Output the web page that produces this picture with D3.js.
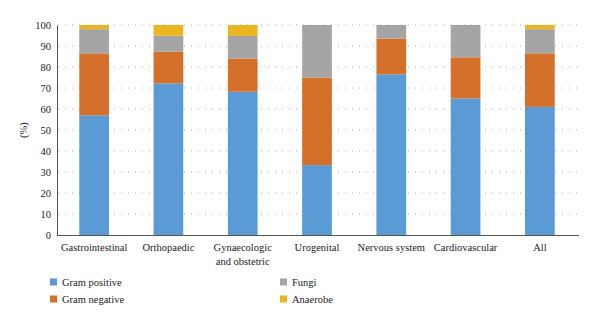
<html>
<head>
<style>
  body { margin: 0; background: #fff; }
  svg text { font-family: "Liberation Serif", "DejaVu Serif", serif !important; fill: #222; }
</style>
</head>
<body>
<div id="chart"></div>
<script src="https://d3js.org/d3.v7.min.js"></script>
<script>
  const width = 600
  const height = 326

  // data
  const categories = ['Gastrointestinal', 'Orthopaedic', 'Gynaecologic\nand obstetric', 'Urogenital', 'Nervous system', 'Cardiovascular', 'All']
  const seriesNames = ['Gram positive', 'Gram negative', 'Fungi', 'Anaerobe']
  const gramPositive = [57, 72.2, 68.2, 33.3, 76.5, 65, 61]
  const gramNegative = [29.5, 15.1, 15.8, 41.7, 17, 19.6, 25.5]
  const fungi = [11.5, 7.6, 10.8, 25, 6.5, 15.4, 11.5]
  const anaerobe = [2, 5.1, 5.2, 0, 0, 0, 2]
  const yTicks = [0, 10, 20, 30, 40, 50, 60, 70, 80, 90, 100]
  const colors = ['#5b9bd5', '#d4702a', '#a5a5a5', '#eab620']

  const rows = categories.map((c, i) => ({
    cat: c,
    'Gram positive': gramPositive[i],
    'Gram negative': gramNegative[i],
    'Fungi': fungi[i],
    'Anaerobe': anaerobe[i]
  }))
  const stacked = d3.stack().keys(seriesNames)(rows)

  const svg = d3.select('#chart').append('svg')
    .attr('width', width)
    .attr('height', height)
    .style('font-family', '"Liberation Serif", serif')

  const x = d3.scaleBand().domain(categories).range([57, 577]).paddingInner(0.6).paddingOuter(0.3)
  const y = d3.scaleLinear().domain([0, 100]).range([235, 25])

  // dotted grid
  svg.append('g')
    .selectAll('line')
    .data(yTicks.slice(1))
    .join('line')
    .attr('x1', 58).attr('x2', 579)
    .attr('y1', d => y(d)).attr('y2', d => y(d))
    .attr('stroke', '#aaa')
    .attr('stroke-width', 1)
    .attr('stroke-dasharray', '1,6')

  // bars
  svg.append('g')
    .selectAll('g')
    .data(stacked)
    .join('g')
    .attr('fill', (d, i) => colors[i])
    .selectAll('rect')
    .data(d => d)
    .join('rect')
    .attr('x', d => x(d.data.cat))
    .attr('width', x.bandwidth())
    .attr('y', d => y(d[1]))
    .attr('height', d => y(d[0]) - y(d[1]))

  // y axis
  const yAxis = d3.axisLeft(y).tickValues(yTicks).tickSize(0).tickPadding(6)
  const gy = svg.append('g').attr('transform', 'translate(57,0)').call(yAxis)
  gy.attr('font-family', null)
  gy.select('.domain').attr('stroke', '#555')
  gy.selectAll('text').attr('font-size', 10.5).attr('fill', '#222')

  // x axis
  const xAxis = d3.axisBottom(x).tickSize(0).tickFormat('')
  const gx = svg.append('g').attr('transform', 'translate(0,235)').call(xAxis)
  gx.select('.domain').attr('d', 'M57,0.5H579').attr('stroke', '#555')

  svg.append('g')
    .selectAll('text')
    .data(categories)
    .join('text')
    .attr('x', d => x(d) + x.bandwidth() / 2)
    .attr('y', 251)
    .attr('text-anchor', 'middle')
    .attr('font-size', 10.5)
    .each(function (d) {
      d.split('\n').forEach((line, i) => {
        d3.select(this).append('tspan')
          .attr('x', x(d) + x.bandwidth() / 2)
          .attr('dy', i === 0 ? 0 : 13.5)
          .text(line)
      })
    })

  svg.append('text')
    .attr('transform', 'translate(27,130) rotate(-90)')
    .attr('text-anchor', 'middle')
    .attr('font-size', 10.5)
    .text('(%)')

  // legend
  const legendPos = [[50, 282], [50, 299], [280, 282], [280, 299]]
  const legend = svg.append('g')
    .selectAll('g')
    .data(seriesNames)
    .join('g')
    .attr('transform', (d, i) => `translate(${legendPos[i][0]},${legendPos[i][1]})`)
  legend.append('rect')
    .attr('x', 0).attr('y', -3.5)
    .attr('width', 7).attr('height', 7)
    .attr('fill', (d, i) => colors[i])
  legend.append('text')
    .attr('x', 12).attr('y', 3.5)
    .attr('font-size', 10.5)
    .text(d => d)
</script>
</body>
</html>
